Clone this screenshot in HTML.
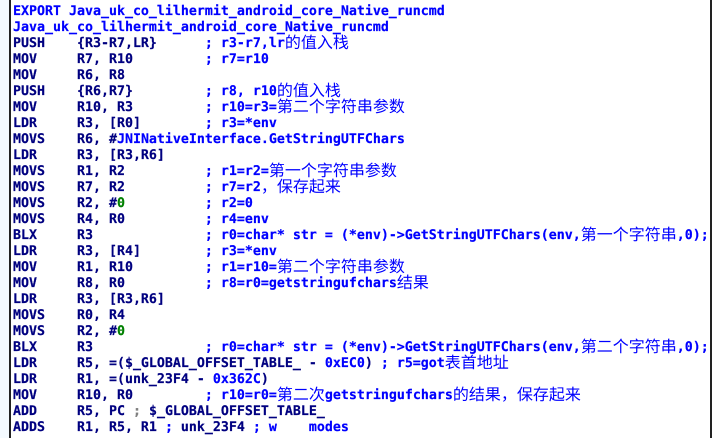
<!DOCTYPE html>
<html><head><meta charset="utf-8">
<style>
html,body{margin:0;padding:0;background:#fff;width:712px;height:438px;overflow:hidden}
#bl{position:absolute;left:9px;top:0;width:2px;height:438px;background:#222}
#br{position:absolute;left:710px;top:0;width:2px;height:438px;background:#222}
#s{position:absolute;left:0;top:0;width:9px;height:438px;background:#f4faff}
#w{position:absolute;left:0;top:4px;width:712px;height:434px}
.l{position:absolute;left:13px;height:16px;white-space:pre;font:bold 13.29px/16px "DejaVu Sans Mono","Liberation Mono",monospace;color:#000080;text-rendering:geometricPrecision;-webkit-text-stroke:0.2px currentColor}
.c{color:#0000ff}
.g{color:#008000}
.y{color:#808080}
.z{font:normal 16px/0 "WenQuanYi Zen Hei","Noto Sans CJK SC",sans-serif;color:#0000ff;position:relative;top:1px;-webkit-text-stroke:0}
</style></head><body>
<div id="s"></div><div id="bl"></div><div id="br"></div>
<div id="w">
<div class="l c" style="top:0px">EXPORT Java_uk_co_lilhermit_android_core_Native_runcmd</div>
<div class="l c" style="top:16px">Java_uk_co_lilhermit_android_core_Native_runcmd</div>
<div class="l" style="top:32px">PUSH    {R3-R7,LR}      <span class="c">; r3-r7,lr<span class="z">的值入栈</span></span></div>
<div class="l" style="top:48px">MOV     R7, R10         <span class="c">; r7=r10</span></div>
<div class="l" style="top:64px">MOV     R6, R8</div>
<div class="l" style="top:80px">PUSH    {R6,R7}         <span class="c">; r8, r10<span class="z">的值入栈</span></span></div>
<div class="l" style="top:96px">MOV     R10, R3         <span class="c">; r10=r3=<span class="z">第二个字符串参数</span></span></div>
<div class="l" style="top:112px">LDR     R3, [R0]        <span class="c">; r3=*env</span></div>
<div class="l" style="top:128px">MOVS    R6, #<span class="c">JNINativeInterface.GetStringUTFChars</span></div>
<div class="l" style="top:144px">LDR     R3, [R3,R6]</div>
<div class="l" style="top:160px">MOVS    R1, R2          <span class="c">; r1=r2=<span class="z">第一个字符串参数</span></span></div>
<div class="l" style="top:176px">MOVS    R7, R2          <span class="c">; r7=r2<span class="z">，保存起来</span></span></div>
<div class="l" style="top:192px">MOVS    R2, #<span class="g">0</span>          <span class="c">; r2=0</span></div>
<div class="l" style="top:208px">MOVS    R4, R0          <span class="c">; r4=env</span></div>
<div class="l" style="top:224px">BLX     R3              <span class="c">; r0=char* str = (*env)-&gt;GetStringUTFChars(env,<span class="z">第一个字符串</span>,0);</span></div>
<div class="l" style="top:240px">LDR     R3, [R4]        <span class="c">; r3=*env</span></div>
<div class="l" style="top:256px">MOV     R1, R10         <span class="c">; r1=r10=<span class="z">第二个字符串参数</span></span></div>
<div class="l" style="top:272px">MOV     R8, R0          <span class="c">; r8=r0=getstringufchars<span class="z">结果</span></span></div>
<div class="l" style="top:288px">LDR     R3, [R3,R6]</div>
<div class="l" style="top:304px">MOVS    R0, R4</div>
<div class="l" style="top:320px">MOVS    R2, #<span class="g">0</span></div>
<div class="l" style="top:336px">BLX     R3              <span class="c">; r0=char* str = (*env)-&gt;GetStringUTFChars(env,<span class="z">第二个字符串</span>,0);</span></div>
<div class="l" style="top:352px">LDR     R5, =($_GLOBAL_OFFSET_TABLE_ - <span class="c">0xEC0</span>) <span class="c">; r5=got<span class="z">表首地址</span></span></div>
<div class="l" style="top:368px">LDR     R1, =(unk_23F4 - <span class="c">0x362C</span>)</div>
<div class="l" style="top:384px">MOV     R10, R0         <span class="c">; r10=r0=<span class="z">第二次</span>getstringufchars<span class="z">的结果，保存起来</span></span></div>
<div class="l" style="top:400px">ADD     R5, PC <span class="y">;</span> $_GLOBAL_OFFSET_TABLE_</div>
<div class="l" style="top:416px">ADDS    R1, R5, R1 <span class="c">;</span> unk_23F4 <span class="c">; w    modes</span></div>
</div>
</body></html>
